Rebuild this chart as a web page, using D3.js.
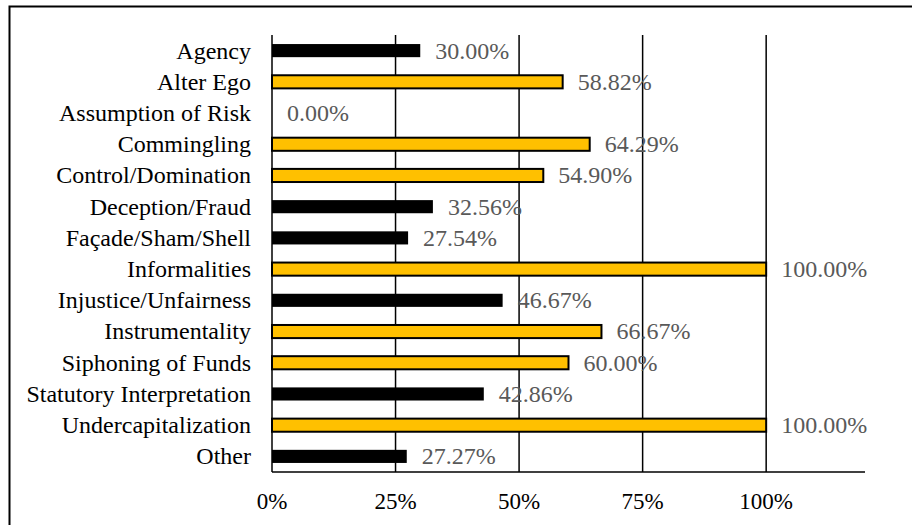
<!DOCTYPE html>
<html>
  <head>
    <style>
      body,
      html {
        margin: 0;
        padding: 0;
        background: #fff;
      }
      text {
        font-family: 'Liberation Serif', 'Times New Roman', serif;
      }
    </style>
  </head>
  <body>
    <svg id="svg" width="912" height="525"></svg>
    <script src="https://cdn.jsdelivr.net/npm/d3@7"></script>
    <script>
      const width = 912;
      const height = 525;
      const margin = { top: 35, right: 47, bottom: 53, left: 272 };

      const categories = [
        'Agency',
        'Alter Ego',
        'Assumption of Risk',
        'Commingling',
        'Control/Domination',
        'Deception/Fraud',
        'Façade/Sham/Shell',
        'Informalities',
        'Injustice/Unfairness',
        'Instrumentality',
        'Siphoning of Funds',
        'Statutory Interpretation',
        'Undercapitalization',
        'Other',
      ];
      const values = [
        0.3, 0.5882, 0, 0.6429, 0.549, 0.3256, 0.2754, 1, 0.4667, 0.6667, 0.6,
        0.4286, 1, 0.2727,
      ];
      const tickValues = [0, 0.25, 0.5, 0.75, 1];

      const data = categories.map((name, i) => ({ name, value: values[i] }));

      const svg = d3.select('#svg');

      // outer frame (runs off the right and bottom edges)
      svg
        .append('rect')
        .attr('x', 9.5)
        .attr('y', 6.5)
        .attr('width', 940)
        .attr('height', 560)
        .attr('fill', 'none')
        .attr('stroke', '#000')
        .attr('stroke-width', 2);

      const xScale = d3
        .scaleLinear()
        .domain([0, 1.2])
        .range([margin.left, width - margin.right]);
      const yScale = d3
        .scaleBand()
        .domain(categories)
        .range([margin.top, height - margin.bottom])
        .paddingInner(0.58)
        .paddingOuter(0.29);

      // gridlines
      svg
        .append('g')
        .selectAll('line')
        .data(tickValues.slice(1))
        .join('line')
        .attr('x1', (d) => xScale(d))
        .attr('x2', (d) => xScale(d))
        .attr('y1', margin.top)
        .attr('y2', height - margin.bottom)
        .attr('stroke', '#000')
        .attr('stroke-width', 1.5);

      // bars
      svg
        .append('g')
        .selectAll('rect')
        .data(data.filter((d) => d.value > 0))
        .join('rect')
        .attr('x', xScale(0))
        .attr('y', (d) => yScale(d.name))
        .attr('width', (d) => xScale(d.value) - xScale(0))
        .attr('height', yScale.bandwidth())
        .attr('fill', (d) => (d.value > 0.5 ? '#ffc000' : '#000'))
        .attr('stroke', '#000')
        .attr('stroke-width', (d) => (d.value > 0.5 ? 2 : 0));

      // axis lines
      svg
        .append('line')
        .attr('x1', xScale(0))
        .attr('x2', xScale(0))
        .attr('y1', margin.top)
        .attr('y2', height - margin.bottom)
        .attr('stroke', '#000')
        .attr('stroke-width', 1.5);
      svg
        .append('line')
        .attr('x1', xScale(0))
        .attr('x2', xScale(1.2))
        .attr('y1', height - margin.bottom)
        .attr('y2', height - margin.bottom)
        .attr('stroke', '#000')
        .attr('stroke-width', 1.5);

      // category labels
      svg
        .append('g')
        .selectAll('text')
        .data(categories)
        .join('text')
        .attr('x', xScale(0) - 21)
        .attr('y', (d) => yScale(d) + yScale.bandwidth() / 2)
        .attr('dy', '0.33em')
        .attr('text-anchor', 'end')
        .attr('font-size', 24)
        .attr('fill', '#000')
        .text((d) => d);

      // tick labels
      svg
        .append('g')
        .selectAll('text')
        .data(tickValues)
        .join('text')
        .attr('x', (d) => xScale(d))
        .attr('y', height - margin.bottom + 37)
        .attr('text-anchor', 'middle')
        .attr('font-size', 23)
        .attr('fill', '#000')
        .text((d) => d3.format('.0%')(d));

      // value labels
      svg
        .append('g')
        .selectAll('text')
        .data(data)
        .join('text')
        .attr('x', (d) => xScale(d.value) + 15)
        .attr('y', (d) => yScale(d.name) + yScale.bandwidth() / 2)
        .attr('dy', '0.33em')
        .attr('font-size', 24)
        .attr('fill', '#595959')
        .text((d) => d3.format('.2%')(d.value));
    </script>
  </body>
</html>
